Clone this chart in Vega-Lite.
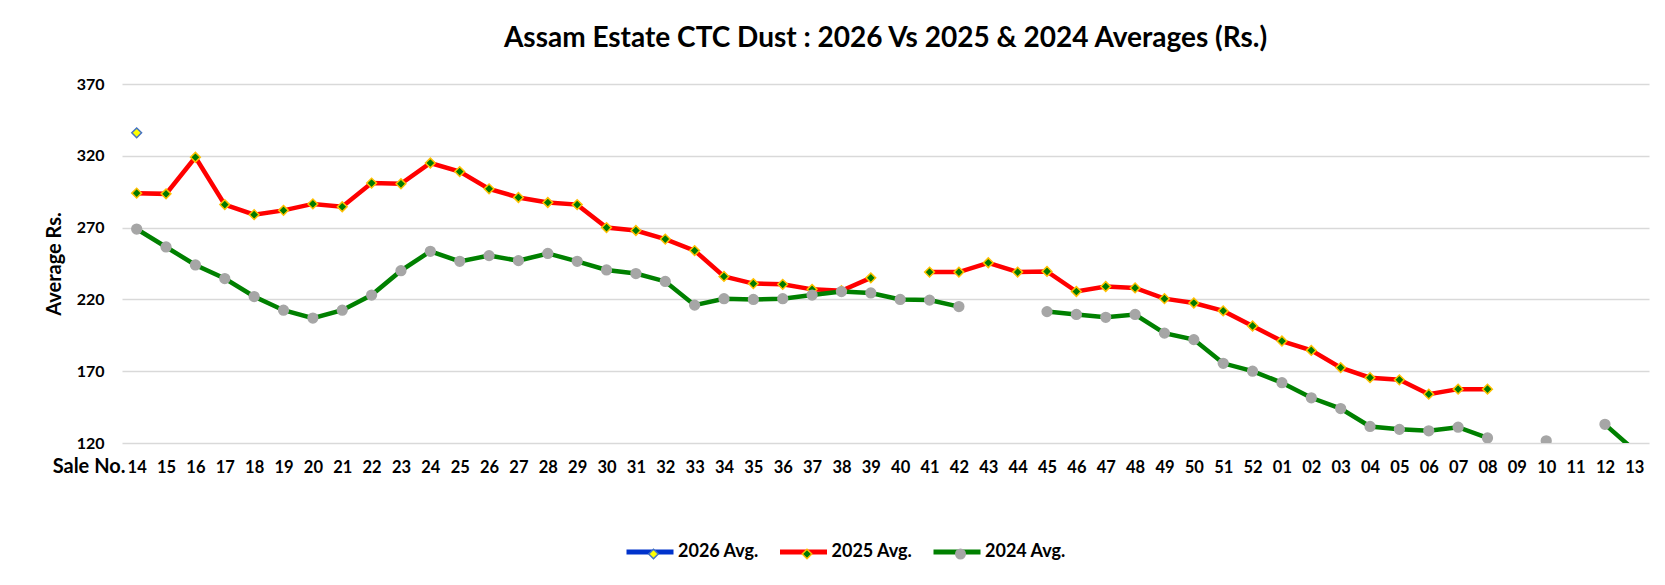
{
  "$schema": "https://vega.github.io/schema/vega-lite/v6.json",
  "autosize": "none",
  "width": 1527,
  "height": 359,
  "padding": {"left": 122, "top": 84, "right": 16, "bottom": 142},
  "background": "white",
  "config": {
    "view": {"stroke": null},
    "font": "Lato",
    "axis": {"labelFont": "Lato", "titleFont": "Lato"},
    "legend": {"labelFont": "Lato"}
  },
  "title": {
    "text": "Assam Estate CTC Dust : 2026 Vs 2025 & 2024 Averages (Rs.)",
    "font": "Lato",
    "fontSize": 28,
    "fontWeight": "bold",
    "color": "black",
    "anchor": "middle",
    "baseline": "alphabetic",
    "offset": 1
  },
  "data": {
    "values": [
      {"sale": "14", "series": "2026 Avg.", "v": 336},
      {"sale": "14", "series": "2025 Avg.", "v": 294},
      {"sale": "15", "series": "2025 Avg.", "v": 293.5},
      {"sale": "16", "series": "2025 Avg.", "v": 319},
      {"sale": "17", "series": "2025 Avg.", "v": 286},
      {"sale": "18", "series": "2025 Avg.", "v": 279},
      {"sale": "19", "series": "2025 Avg.", "v": 282},
      {"sale": "20", "series": "2025 Avg.", "v": 286.5},
      {"sale": "21", "series": "2025 Avg.", "v": 284.5},
      {"sale": "22", "series": "2025 Avg.", "v": 301},
      {"sale": "23", "series": "2025 Avg.", "v": 300.5},
      {"sale": "24", "series": "2025 Avg.", "v": 315},
      {"sale": "25", "series": "2025 Avg.", "v": 309},
      {"sale": "26", "series": "2025 Avg.", "v": 297},
      {"sale": "27", "series": "2025 Avg.", "v": 291},
      {"sale": "28", "series": "2025 Avg.", "v": 287.5},
      {"sale": "29", "series": "2025 Avg.", "v": 286},
      {"sale": "30", "series": "2025 Avg.", "v": 270},
      {"sale": "31", "series": "2025 Avg.", "v": 268},
      {"sale": "32", "series": "2025 Avg.", "v": 262},
      {"sale": "33", "series": "2025 Avg.", "v": 254},
      {"sale": "34", "series": "2025 Avg.", "v": 236},
      {"sale": "35", "series": "2025 Avg.", "v": 231},
      {"sale": "36", "series": "2025 Avg.", "v": 230.5},
      {"sale": "37", "series": "2025 Avg.", "v": 227},
      {"sale": "38", "series": "2025 Avg.", "v": 226},
      {"sale": "39", "series": "2025 Avg.", "v": 235},
      {"sale": "40", "series": "2025 Avg.", "v": null},
      {"sale": "41", "series": "2025 Avg.", "v": 239},
      {"sale": "42", "series": "2025 Avg.", "v": 239},
      {"sale": "43", "series": "2025 Avg.", "v": 245.5},
      {"sale": "44", "series": "2025 Avg.", "v": 239},
      {"sale": "45", "series": "2025 Avg.", "v": 239.5},
      {"sale": "46", "series": "2025 Avg.", "v": 225.5},
      {"sale": "47", "series": "2025 Avg.", "v": 229},
      {"sale": "48", "series": "2025 Avg.", "v": 228},
      {"sale": "49", "series": "2025 Avg.", "v": 220.5},
      {"sale": "50", "series": "2025 Avg.", "v": 217.5},
      {"sale": "51", "series": "2025 Avg.", "v": 212},
      {"sale": "52", "series": "2025 Avg.", "v": 201.5},
      {"sale": "01", "series": "2025 Avg.", "v": 191},
      {"sale": "02", "series": "2025 Avg.", "v": 184.5},
      {"sale": "03", "series": "2025 Avg.", "v": 172.5},
      {"sale": "04", "series": "2025 Avg.", "v": 165.5},
      {"sale": "05", "series": "2025 Avg.", "v": 164},
      {"sale": "06", "series": "2025 Avg.", "v": 154},
      {"sale": "07", "series": "2025 Avg.", "v": 157.5},
      {"sale": "08", "series": "2025 Avg.", "v": 157.5},
      {"sale": "14", "series": "2024 Avg.", "v": 269},
      {"sale": "15", "series": "2024 Avg.", "v": 256.5},
      {"sale": "16", "series": "2024 Avg.", "v": 244},
      {"sale": "17", "series": "2024 Avg.", "v": 234.5},
      {"sale": "18", "series": "2024 Avg.", "v": 222},
      {"sale": "19", "series": "2024 Avg.", "v": 212.5},
      {"sale": "20", "series": "2024 Avg.", "v": 207},
      {"sale": "21", "series": "2024 Avg.", "v": 212.5},
      {"sale": "22", "series": "2024 Avg.", "v": 223},
      {"sale": "23", "series": "2024 Avg.", "v": 240},
      {"sale": "24", "series": "2024 Avg.", "v": 253.5},
      {"sale": "25", "series": "2024 Avg.", "v": 246.5},
      {"sale": "26", "series": "2024 Avg.", "v": 250.5},
      {"sale": "27", "series": "2024 Avg.", "v": 247},
      {"sale": "28", "series": "2024 Avg.", "v": 252},
      {"sale": "29", "series": "2024 Avg.", "v": 246.5},
      {"sale": "30", "series": "2024 Avg.", "v": 240.5},
      {"sale": "31", "series": "2024 Avg.", "v": 238},
      {"sale": "32", "series": "2024 Avg.", "v": 232.5},
      {"sale": "33", "series": "2024 Avg.", "v": 216},
      {"sale": "34", "series": "2024 Avg.", "v": 220.5},
      {"sale": "35", "series": "2024 Avg.", "v": 220},
      {"sale": "36", "series": "2024 Avg.", "v": 220.5},
      {"sale": "37", "series": "2024 Avg.", "v": 223},
      {"sale": "38", "series": "2024 Avg.", "v": 225.5},
      {"sale": "39", "series": "2024 Avg.", "v": 224.5},
      {"sale": "40", "series": "2024 Avg.", "v": 220},
      {"sale": "41", "series": "2024 Avg.", "v": 219.5},
      {"sale": "42", "series": "2024 Avg.", "v": 215},
      {"sale": "43", "series": "2024 Avg.", "v": null},
      {"sale": "44", "series": "2024 Avg.", "v": null},
      {"sale": "45", "series": "2024 Avg.", "v": 211.5},
      {"sale": "46", "series": "2024 Avg.", "v": 209.5},
      {"sale": "47", "series": "2024 Avg.", "v": 207.5},
      {"sale": "48", "series": "2024 Avg.", "v": 209.5},
      {"sale": "49", "series": "2024 Avg.", "v": 196.5},
      {"sale": "50", "series": "2024 Avg.", "v": 192},
      {"sale": "51", "series": "2024 Avg.", "v": 175.5},
      {"sale": "52", "series": "2024 Avg.", "v": 170},
      {"sale": "01", "series": "2024 Avg.", "v": 162},
      {"sale": "02", "series": "2024 Avg.", "v": 151.5},
      {"sale": "03", "series": "2024 Avg.", "v": 144},
      {"sale": "04", "series": "2024 Avg.", "v": 131.5},
      {"sale": "05", "series": "2024 Avg.", "v": 129.5},
      {"sale": "06", "series": "2024 Avg.", "v": 128.5},
      {"sale": "07", "series": "2024 Avg.", "v": 131},
      {"sale": "08", "series": "2024 Avg.", "v": 123.5},
      {"sale": "09", "series": "2024 Avg.", "v": null},
      {"sale": "10", "series": "2024 Avg.", "v": 121.5},
      {"sale": "11", "series": "2024 Avg.", "v": null},
      {"sale": "12", "series": "2024 Avg.", "v": 133},
      {"sale": "13", "series": "2024 Avg.", "v": 115}
    ]
  },
  "encoding": {
    "x": {
      "field": "sale",
      "type": "ordinal",
      "scale": {
        "type": "point",
        "padding": 0.5,
        "domain": ["14","15","16","17","18","19","20","21","22","23","24","25","26","27","28","29","30","31","32","33","34","35","36","37","38","39","40","41","42","43","44","45","46","47","48","49","50","51","52","01","02","03","04","05","06","07","08","09","10","11","12","13"]
      },
      "axis": {
        "title": "Sale No.",
        "titleFont": "Lato",
        "titleFontSize": 20,
        "titleFontWeight": "bold",
        "titleColor": "black",
        "titleAnchor": "start",
        "titleAlign": "right",
        "titleBaseline": "alphabetic",
        "titleX": 3,
        "titleY": 29,
        "labelAngle": 0,
        "labelFontSize": 16.5,
        "labelFontWeight": "bold",
        "labelColor": "black",
        "labelPadding": 16,
        "labelBaseline": "top",
        "ticks": false,
        "domain": false,
        "grid": false
      }
    },
    "y": {
      "field": "v",
      "type": "quantitative",
      "scale": {"domain": [120, 370], "nice": false, "zero": false},
      "axis": {
        "title": "Average Rs.",
        "titleFont": "Lato",
        "titleFontSize": 20,
        "titleFontWeight": "bold",
        "titleColor": "black",
        "titlePadding": 12,
        "values": [120, 170, 220, 270, 320, 370],
        "labelFontSize": 16,
        "labelFontWeight": "bold",
        "labelColor": "black",
        "labelPadding": 18,
        "ticks": false,
        "domain": false,
        "grid": true,
        "gridColor": "#d9d9d9",
        "gridWidth": 1.5
      }
    }
  },
  "layer": [
    {
      "mark": {"type": "line", "strokeWidth": 4.5, "clip": true, "invalid": "break-paths-show-domains"},
      "encoding": {
        "color": {
          "field": "series",
          "type": "nominal",
          "scale": {
            "domain": ["2026 Avg.", "2025 Avg.", "2024 Avg."],
            "range": ["#0033cc", "#ff0000", "#008000"]
          },
          "legend": {
            "title": null,
            "orient": "none",
            "direction": "horizontal",
            "legendX": 502,
            "legendY": 442,
            "padding": 0,
            "symbolType": "stroke",
            "symbolSize": 2209,
            "symbolStrokeWidth": 5,
            "labelFontSize": 18,
            "labelFontWeight": "bold",
            "labelColor": "black",
            "labelOffset": 2,
            "columnPadding": 10.5
          }
        },
        "order": {"value": null}
      }
    },
    {
      "mark": {"type": "point", "filled": true, "strokeWidth": 1.5, "size": 95, "opacity": 1, "clip": true},
      "encoding": {
        "fill": {
          "field": "series",
          "type": "nominal",
          "sort": "descending",
          "scale": {"range": ["#ffff00", "#007a00", "#a6a6a6"]},
          "legend": {
            "title": null,
            "orient": "none",
            "direction": "horizontal",
            "legendX": 502,
            "legendY": 461,
            "padding": 0,
            "symbolSize": 90,
            "symbolStrokeWidth": 1.5,
            "symbolOffset": 20.5,
            "labelExpr": "''",
            "labelFontSize": 18,
            "labelOffset": 0,
            "columnPadding": 114.5
          }
        },
        "stroke": {
          "field": "series",
          "type": "nominal",
          "sort": "descending",
          "scale": {"range": ["#4472c4", "#ffc000", "#a6a6a6"]},
          "legend": {
            "title": null,
            "orient": "none",
            "direction": "horizontal",
            "legendX": 502,
            "legendY": 461,
            "padding": 0,
            "symbolSize": 90,
            "symbolStrokeWidth": 1.5,
            "symbolOffset": 20.5,
            "labelExpr": "''",
            "labelFontSize": 18,
            "labelOffset": 0,
            "columnPadding": 114.5
          }
        },
        "shape": {
          "field": "series",
          "type": "nominal",
          "sort": "descending",
          "scale": {"range": ["diamond", "diamond", "circle"]},
          "legend": {
            "title": null,
            "orient": "none",
            "direction": "horizontal",
            "legendX": 502,
            "legendY": 461,
            "padding": 0,
            "symbolSize": 90,
            "symbolStrokeWidth": 1.5,
            "symbolOffset": 20.5,
            "labelExpr": "''",
            "labelFontSize": 18,
            "labelOffset": 0,
            "columnPadding": 114.5
          }
        }
      }
    }
  ]
}
